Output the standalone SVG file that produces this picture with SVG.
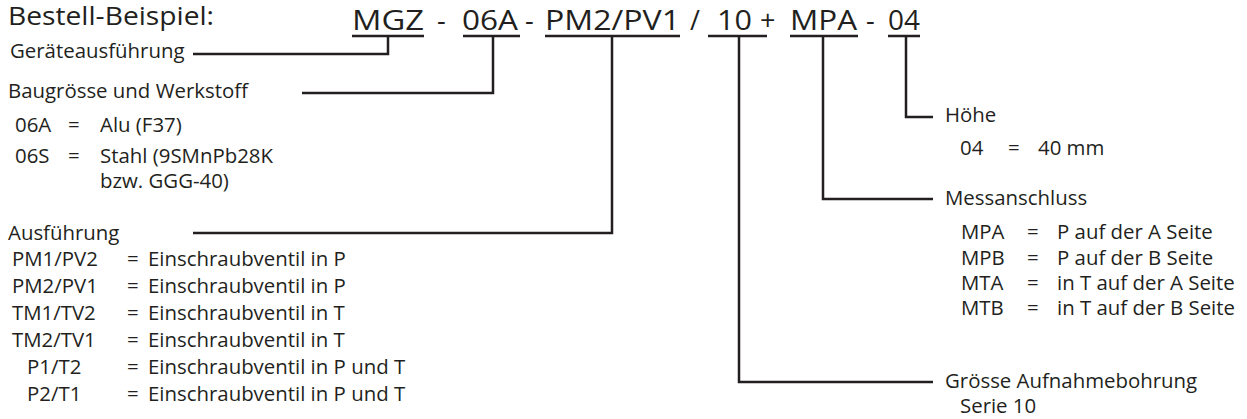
<svg xmlns="http://www.w3.org/2000/svg" width="1247" height="419" viewBox="0 0 1247 419">
<style>
text{font-family:"Open Sans","Noto Sans","Liberation Sans",sans-serif;fill:#231f20}
.b{font-size:20.4px}
.c{font-size:27px}
.t{font-size:25px}
.ln{fill:none;stroke:#231f20;stroke-width:2.5;stroke-linecap:butt;stroke-linejoin:miter}
</style>
<rect width="1247" height="419" fill="#fff"/>
<g id="title"><text class="t" x="8" y="25" textLength="206" lengthAdjust="spacingAndGlyphs">Bestell-Beispiel:</text></g>
<g id="code">
<text class="c" x="352" y="30" textLength="72" lengthAdjust="spacingAndGlyphs">MGZ</text>
<text class="c" x="437" y="30">-</text>
<text class="c" x="462" y="30" textLength="56" lengthAdjust="spacingAndGlyphs">06A</text>
<text class="c" x="525" y="30">-</text>
<text class="c" x="545" y="30" textLength="135" lengthAdjust="spacingAndGlyphs">PM2/PV1</text>
<text class="c" x="690" y="30">/</text>
<text class="c" x="717" y="30" textLength="35" lengthAdjust="spacingAndGlyphs">10</text>
<text class="c" x="760" y="30">+</text>
<text class="c" x="790" y="30" textLength="67" lengthAdjust="spacingAndGlyphs">MPA</text>
<text class="c" x="866" y="30">-</text>
<text class="c" x="888" y="30" textLength="32" lengthAdjust="spacingAndGlyphs">04</text>
</g>
<g id="connectors">
<path class="ln" d="M352 36H424M388 36V54H193"/>
<path class="ln" d="M463 36H520M493 36V93H302"/>
<path class="ln" d="M545 36H680M612 36V233H193"/>
<path class="ln" d="M708 36H767M739 36V382H933"/>
<path class="ln" d="M790 36H858M823 36V199H933"/>
<path class="ln" d="M888 36H920M906 36V117H933"/>
</g>
<g id="geraeteausfuehrung"><text class="b" x="10" y="58">Geräteausführung</text></g>
<g id="baugroesse">
<text class="b" x="8" y="98">Baugrösse und Werkstoff</text>
<text class="b" x="15" y="132">06A</text><text class="b" x="68" y="132">=</text><text class="b" x="100" y="132">Alu (F37)</text>
<text class="b" x="15" y="163">06S</text><text class="b" x="68" y="163">=</text><text class="b" x="100" y="163">Stahl (9SMnPb28K</text>
<text class="b" x="100" y="188">bzw. GGG-40)</text>
</g>
<g id="ausfuehrung">
<text class="b" x="8" y="240">Ausführung</text>
<text class="b" x="12" y="266">PM1/PV2</text><text class="b" x="127" y="266">=</text><text class="b" x="148" y="266">Einschraubventil in P</text>
<text class="b" x="12" y="293">PM2/PV1</text><text class="b" x="127" y="293">=</text><text class="b" x="148" y="293">Einschraubventil in P</text>
<text class="b" x="12" y="320">TM1/TV2</text><text class="b" x="127" y="320">=</text><text class="b" x="148" y="320">Einschraubventil in T</text>
<text class="b" x="12" y="347">TM2/TV1</text><text class="b" x="127" y="347">=</text><text class="b" x="148" y="347">Einschraubventil in T</text>
<text class="b" x="27" y="374">P1/T2</text><text class="b" x="127" y="374">=</text><text class="b" x="148" y="374">Einschraubventil in P und T</text>
<text class="b" x="27" y="401">P2/T1</text><text class="b" x="127" y="401">=</text><text class="b" x="148" y="401">Einschraubventil in P und T</text>
</g>
<g id="hoehe">
<text class="b" x="945" y="122">Höhe</text>
<text class="b" x="960" y="155">04</text><text class="b" x="1008" y="155">=</text><text class="b" x="1038" y="155">40 mm</text>
</g>
<g id="messanschluss">
<text class="b" x="945" y="205">Messanschluss</text>
<text class="b" x="961" y="239">MPA</text><text class="b" x="1027" y="239">=</text><text class="b" x="1057" y="239">P auf der A Seite</text>
<text class="b" x="961" y="265">MPB</text><text class="b" x="1027" y="265">=</text><text class="b" x="1057" y="265">P auf der B Seite</text>
<text class="b" x="961" y="290">MTA</text><text class="b" x="1027" y="290">=</text><text class="b" x="1057" y="290">in T auf der A Seite</text>
<text class="b" x="961" y="315">MTB</text><text class="b" x="1027" y="315">=</text><text class="b" x="1057" y="315">in T auf der B Seite</text>
</g>
<g id="aufnahmebohrung">
<text class="b" x="945" y="388">Grösse Aufnahmebohrung</text>
<text class="b" x="960" y="413">Serie 10</text>
</g>
</svg>
